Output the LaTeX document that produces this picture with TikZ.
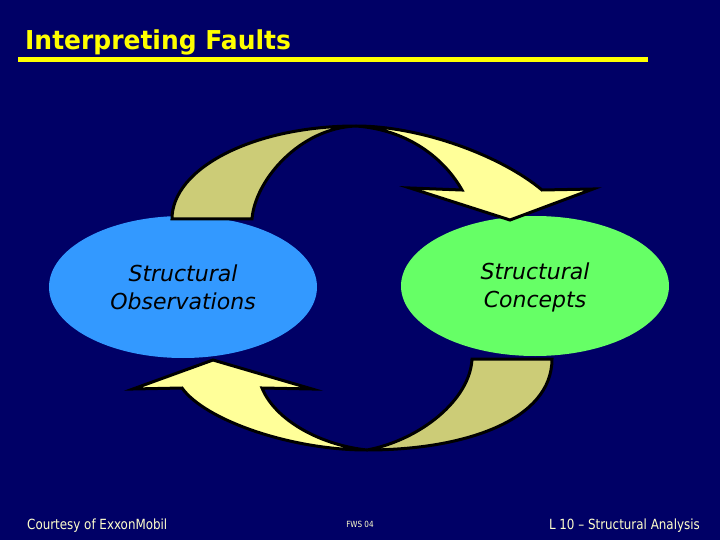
\documentclass[tikz,border=0pt]{standalone}
\usepackage{fontspec}
\setmainfont{DejaVu Sans}
\newfontfamily\titlefont[FakeStretch=0.96]{DejaVu Sans}
\newfontfamily\footfont[FakeStretch=0.85]{DejaVu Sans}
\definecolor{bgnavy}{HTML}{000066}
\definecolor{ttlyellow}{HTML}{FFFF00}
\definecolor{obsblue}{HTML}{3399FF}
\definecolor{conceptgreen}{HTML}{66FF66}
\definecolor{arrkhaki}{HTML}{CCCC77}
\definecolor{arrlight}{HTML}{FFFF99}
\definecolor{footcol}{HTML}{FFFFCC}
\tikzset{
  ellbox/.style={ellipse, minimum width=268pt, inner sep=0pt},
  elltext/.style={align=center, inner sep=0pt, font=\fontsize{22}{28}\selectfont\itshape, text=black},
  arrpart/.style={draw=black, line width=3pt, line join=miter, miter limit=10},
  foottext/.style={text=footcol, inner sep=0pt, font=\footfont\fontsize{14}{16}\selectfont}
}
\usetikzlibrary{shapes.geometric}
\begin{document}
\begin{tikzpicture}[x=1pt,y=-1pt]
\useasboundingbox (0,0) rectangle (720,540);
\fill[bgnavy] (0,0) rectangle (720,540);
% title
\node[anchor=base west, inner sep=0pt, text=ttlyellow, font=\titlefont\bfseries\fontsize{26}{28}\selectfont] (title) at (25,50) {Interpreting Faults};
\fill[ttlyellow] (18,57) rectangle (648,62);
% ellipses
\node[ellbox, fill=obsblue, minimum height=142pt] (obs) at (183,287) {};
\node[ellbox, fill=conceptgreen, minimum height=140pt] (con) at (535,286) {};
\node[elltext] (obstext) at (183,287) {Structural\\Observations};
\node[elltext] (context) at (535,287) {Structural\\Concepts};
% top arrow: shaded back part
\path[arrpart, fill=arrkhaki] (172,219) .. controls (172,168) and (254,126) .. (356,126)
  .. controls (300,128) and (255,180) .. (252,219) -- cycle;
% top arrow: front part with head
\path[arrpart, fill=arrlight] (356,126) .. controls (420,126) and (500,155) .. (542,190)
  -- (593,189) -- (510,220) -- (410,188) -- (462,190)
  .. controls (445,160) and (410,130) .. (356,126) -- cycle;
% bottom arrow: shaded back part
\path[arrpart, fill=arrkhaki] (552,359) .. controls (552,420) and (465,450) .. (367,450)
  .. controls (420,440) and (470,400) .. (472,359) -- cycle;
% bottom arrow: front part with head
\path[arrpart, fill=arrlight] (367,450) .. controls (290,450) and (205,420) .. (182,388)
  -- (133,389) -- (213,360) -- (312,389) -- (262,388)
  .. controls (275,420) and (320,445) .. (367,450) -- cycle;
% footer
\node[foottext, anchor=base west] (courtesy) at (27,529) {Courtesy of ExxonMobil};
\node[foottext, anchor=base, font=\footfont\fontsize{8.5}{9}\selectfont] (fws) at (360,527) {FWS 04};
\node[foottext, anchor=base east] (lecture) at (700,529) {L 10 – Structural Analysis};
\end{tikzpicture}
\end{document}
